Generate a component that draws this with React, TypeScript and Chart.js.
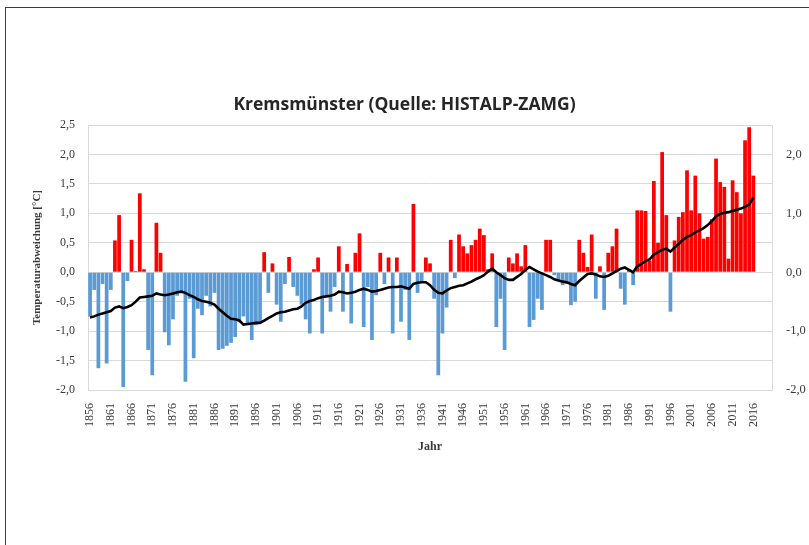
import React, { useEffect, useRef } from 'react';
import { Chart, registerables } from 'chart.js';

Chart.register(...registerables);

// Categories: years 1856 … 2020 (data available up to 2016)
const years: string[] = Array.from({ length: 165 }, (_, i) => String(1856 + i));

// Annual temperature anomaly [°C], 1856 … 2016
const anomalies: number[] = [
  -0.75, -0.30, -1.63, -0.20, -1.55, -0.30, 0.54, 0.97, -1.95, -0.15,
  0.55, 0.02, 1.34, 0.05, -1.32, -1.75, 0.84, 0.33, -1.02, -1.24,
  -0.80, -0.40, -0.35, -1.86, -0.45, -1.46, -0.62, -0.73, -0.40, -0.58,
  -0.35, -1.32, -1.30, -1.25, -1.20, -1.10, -0.85, -0.75, -0.90, -1.15,
  -0.90, -0.85, 0.34, -0.35, 0.15, -0.55, -0.84, -0.20, 0.26, -0.25,
  -0.40, -0.55, -0.80, -1.04, 0.05, 0.25, -1.04, -0.42, -0.67, -0.25,
  0.44, -0.67, 0.14, -0.87, 0.33, 0.66, -0.93, -0.25, -1.15, -0.39,
  0.33, -0.20, 0.25, -1.04, 0.25, -0.84, -0.30, -1.15, 1.16, -0.35,
  -0.15, 0.25, 0.15, -0.45, -1.75, -1.04, -0.60, 0.55, -0.10, 0.64,
  0.44, 0.32, 0.46, 0.55, 0.74, 0.63, 0.05, 0.32, -0.93, -0.45,
  -1.32, 0.25, 0.15, 0.32, 0.10, 0.46, -0.93, -0.81, -0.45, -0.64,
  0.55, 0.55, -0.05, -0.15, -0.22, -0.20, -0.56, -0.50, 0.55, 0.33,
  0.09, 0.64, -0.45, 0.10, -0.64, 0.33, 0.44, 0.74, -0.28, -0.55,
  0.05, -0.22, 1.05, 1.05, 1.04, 0.20, 1.55, 0.50, 2.04, 0.97,
  -0.67, 0.54, 0.94, 1.02, 1.73, 1.05, 1.64, 1.00, 0.57, 0.60,
  0.90, 1.93, 1.53, 1.45, 0.23, 1.56, 1.36, 1.00, 2.24, 2.46, 1.64,
];

// Smoothed curve (black line), 1856 … 2016
const smoothed: number[] = [
  -0.77, -0.75, -0.72, -0.70, -0.68, -0.66, -0.60, -0.58, -0.61, -0.59,
  -0.56, -0.50, -0.43, -0.42, -0.41, -0.40, -0.36, -0.38, -0.39, -0.38,
  -0.36, -0.34, -0.33, -0.35, -0.39, -0.42, -0.46, -0.49, -0.50, -0.52,
  -0.55, -0.62, -0.68, -0.74, -0.79, -0.80, -0.82, -0.89, -0.88, -0.87,
  -0.86, -0.86, -0.82, -0.78, -0.74, -0.70, -0.68, -0.67, -0.65, -0.63,
  -0.62, -0.58, -0.52, -0.49, -0.47, -0.44, -0.42, -0.41, -0.40, -0.38,
  -0.33, -0.34, -0.36, -0.35, -0.33, -0.30, -0.28, -0.30, -0.33, -0.32,
  -0.30, -0.28, -0.26, -0.25, -0.25, -0.24, -0.26, -0.28, -0.20, -0.18,
  -0.17, -0.17, -0.22, -0.30, -0.35, -0.36, -0.31, -0.27, -0.25, -0.23,
  -0.22, -0.19, -0.16, -0.12, -0.09, -0.05, 0.01, 0.06, 0.00, -0.05,
  -0.10, -0.13, -0.13, -0.08, -0.03, 0.04, 0.09, 0.05, 0.01, -0.02,
  -0.05, -0.08, -0.12, -0.14, -0.16, -0.17, -0.20, -0.22, -0.15, -0.09,
  -0.03, -0.02, -0.04, -0.07, -0.08, -0.06, -0.02, 0.02, 0.06, 0.08,
  0.04, 0.00, 0.10, 0.14, 0.19, 0.22, 0.30, 0.34, 0.38, 0.40,
  0.35, 0.42, 0.48, 0.55, 0.60, 0.63, 0.68, 0.71, 0.75, 0.80,
  0.87, 0.95, 0.99, 1.01, 1.02, 1.04, 1.06, 1.08, 1.11, 1.15, 1.27,
];

const TITLE = 'Kremsmünster (Quelle: HISTALP-ZAMG)';
const Y_TITLE = 'Temperaturabweichung [°C]';
const X_TITLE = 'Jahr';

const RED = '#FF0000';
const BLUE = '#5B9BD5';
const GRID = '#D9D9D9';
const TEXT = '#3A3A3A';
const TICK_FONT = 'Liberation Serif';

const W = 809;
const H = 545;

const fmt = (v: number) => v.toFixed(1).replace('.', ',');

export default function App() {
  const ref = useRef<HTMLCanvasElement | null>(null);

  useEffect(() => {
    if (!ref.current) return;
    const chart = new Chart(ref.current, {
      type: 'bar',
      data: {
        labels: years,
        datasets: [
          {
            type: 'line',
            label: 'Glättung',
            data: smoothed,
            yAxisID: 'y2',
            borderColor: '#000000',
            borderWidth: 2.6,
            pointRadius: 0,
            tension: 0,
            order: 0,
          } as any,
          {
            type: 'bar',
            label: 'Abweichung',
            data: anomalies,
            yAxisID: 'y',
            backgroundColor: anomalies.map((v) => (v >= 0 ? RED : BLUE)),
            borderWidth: 0,
            categoryPercentage: 1,
            barPercentage: 0.9,
            order: 1,
          },
        ],
      },
      options: {
        responsive: false,
        animation: false,
        layout: { padding: 0 },
        plugins: {
          legend: { display: false },
          tooltip: { enabled: false },
          title: {
            display: true,
            text: TITLE,
            color: '#262626',
            font: { family: 'Open Sans', size: 17.5, weight: 'bold' },
            padding: { top: 95, bottom: 9 },
          },
        },
        scales: {
          x: {
            offset: true,
            grid: { display: false, drawTicks: false },
            border: { display: false },
            ticks: {
              autoSkip: false,
              maxRotation: 90,
              minRotation: 90,
              padding: 13,
              color: TEXT,
              font: { family: TICK_FONT, size: 12 },
              callback: function (this: any, value: any, index: number) {
                return index % 5 === 0 ? this.getLabelForValue(value) : '';
              },
            },
            title: {
              display: true,
              text: X_TITLE,
              color: TEXT,
              font: { family: TICK_FONT, size: 12, weight: 'bold' },
              padding: { top: 0, bottom: 91 },
            },
            afterFit: (scale: any) => {
              scale.height = H - 390;
            },
          },
          y: {
            position: 'left',
            min: -2,
            max: 2.5,
            grid: { color: GRID, lineWidth: 1, drawTicks: false },
            border: { display: true, color: GRID },
            ticks: {
              stepSize: 0.5,
              padding: 13,
              color: TEXT,
              font: { family: TICK_FONT, size: 12 },
              callback: (v: any) => fmt(Number(v)),
            },
            title: {
              display: true,
              text: Y_TITLE,
              color: TEXT,
              font: { family: TICK_FONT, size: 11, weight: 'bold' },
              padding: { top: 31, bottom: 0 },
            },
            afterFit: (scale: any) => {
              scale.width = 88;
            },
          },
          y2: {
            position: 'right',
            min: -2,
            max: 2.5,
            grid: { display: false, drawTicks: false },
            border: { display: true, color: GRID },
            ticks: {
              stepSize: 1,
              padding: 14,
              color: TEXT,
              font: { family: TICK_FONT, size: 12.5 },
              callback: (v: any) => (Number.isInteger(Number(v)) ? fmt(Number(v)) : ''),
            },
            afterFit: (scale: any) => {
              scale.width = W - 772;
            },
          },
        },
      },
    });
    return () => chart.destroy();
  }, []);

  return (
    <div style={{ position: 'fixed', left: 0, top: 0, width: W, height: H, background: '#ffffff', overflow: 'hidden' }}>
      <div
        style={{
          position: 'absolute',
          left: 5,
          top: 7,
          width: W - 5,
          height: H - 7,
          borderLeft: '1px solid #3c3c3c',
          borderTop: '1px solid #3c3c3c',
          boxSizing: 'border-box',
        }}
      />
      <canvas ref={ref} width={W} height={H} style={{ position: 'absolute', left: 0, top: 0, width: W, height: H }} />
    </div>
  );
}
